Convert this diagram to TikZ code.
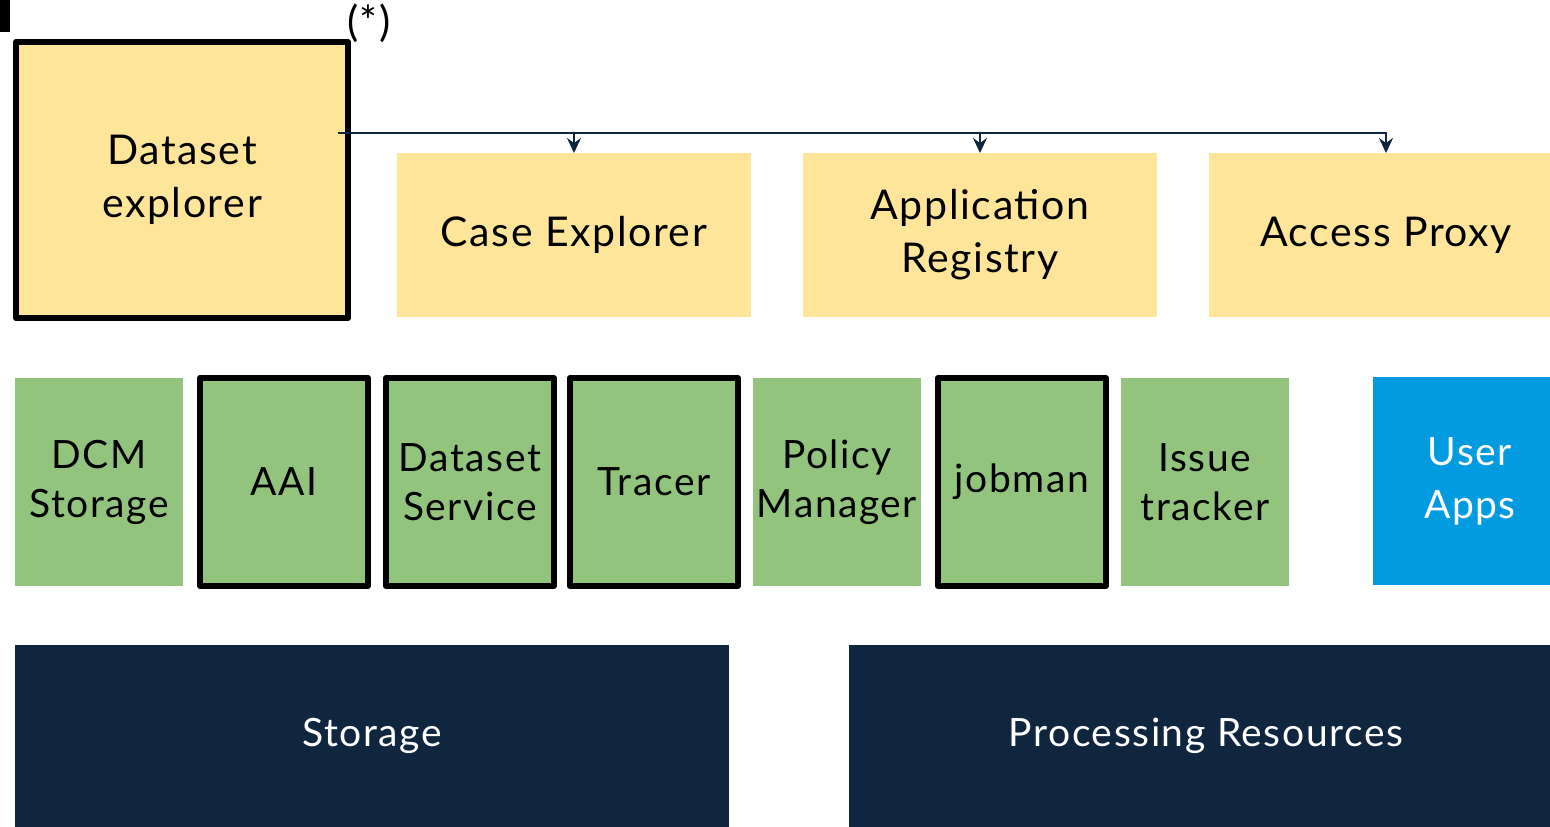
\documentclass[tikz,border=0pt]{standalone}
\usepackage{fontspec}
\setmainfont{Lato}[LetterSpace=4]
\usetikzlibrary{arrows.meta}
\definecolor{paleyellow}{HTML}{FFE599}
\definecolor{leafgreen}{HTML}{93C47D}
\definecolor{skyblue}{HTML}{039BDF}
\definecolor{navy}{HTML}{10263F}
\tikzset{
  every node/.style={inner sep=0pt, outer sep=0pt, align=center},
  ybox/.style={fill=paleyellow, minimum width=354pt, minimum height=164pt, font=\fontsize{41}{53}\selectfont},
  gbox/.style={fill=leafgreen, minimum width=168pt, minimum height=208pt, font=\fontsize{39}{49}\selectfont},
  bold/.style={draw=black, line width=6pt, line join=round},
  bbox/.style={fill=skyblue, text=white, minimum width=194pt, minimum height=208pt, font=\fontsize{39}{53}\selectfont},
  nbox/.style={fill=navy, text=white, minimum width=714pt, minimum height=182pt, font=\fontsize{39}{49}\selectfont},
  conn/.style={draw=navy, line width=2pt, -{Stealth[length=15pt, width=14pt, inset=5pt]}},
}
\begin{document}
\begin{tikzpicture}[x=1pt, y=-1pt]
\useasboundingbox (0,0) rectangle (1550,827);
\fill[white] (0,0) rectangle (1550,827);
\clip (0,0) rectangle (1550,827);

% marker bar in the corner
\fill[black] (0,0) rectangle (10,32);

% top row: applications
\node[ybox, bold, minimum width=332pt, minimum height=276pt] (dsx) at (182,180) {Dataset\\explorer};
\node[font=\fontsize{42}{46}\selectfont, anchor=west] (star) at (347,23) {(*)};
\node[ybox] (case) at (574,235) {Case Explorer};
\node[ybox] (reg) at (980,235) {Application\\Registry};
\node[ybox] (proxy) at (1386,235) {Access Proxy};

% distribution bus from the dataset explorer
\coordinate (bus) at (338,133);
\draw[conn] (bus) -| (case.north);
\draw[conn] (bus) -| (reg.north);
\draw[conn] (bus) -| (proxy.north);

% middle row: services
\node[gbox] (dcm) at (99,482) {DCM\\Storage};
\node[gbox, bold] (aai) at (284,482) {AAI};
\node[gbox, bold] (dss) at (470,482) {Dataset\\Service};
\node[gbox, bold] (tracer) at (654,482) {Tracer};
\node[gbox] (policy) at (837,482) {Policy\\Manager};
\node[gbox, bold] (jobman) at (1022,482) {jobman};
\node[gbox] (issue) at (1205,482) {Issue\\tracker};
\node[bbox] (apps) at (1470,481) {User\\Apps};

% bottom row: infrastructure
\node[nbox] (storage) at (372,736) {Storage};
\node[nbox] (proc) at (1206,736) {Processing Resources};
\end{tikzpicture}
\end{document}
